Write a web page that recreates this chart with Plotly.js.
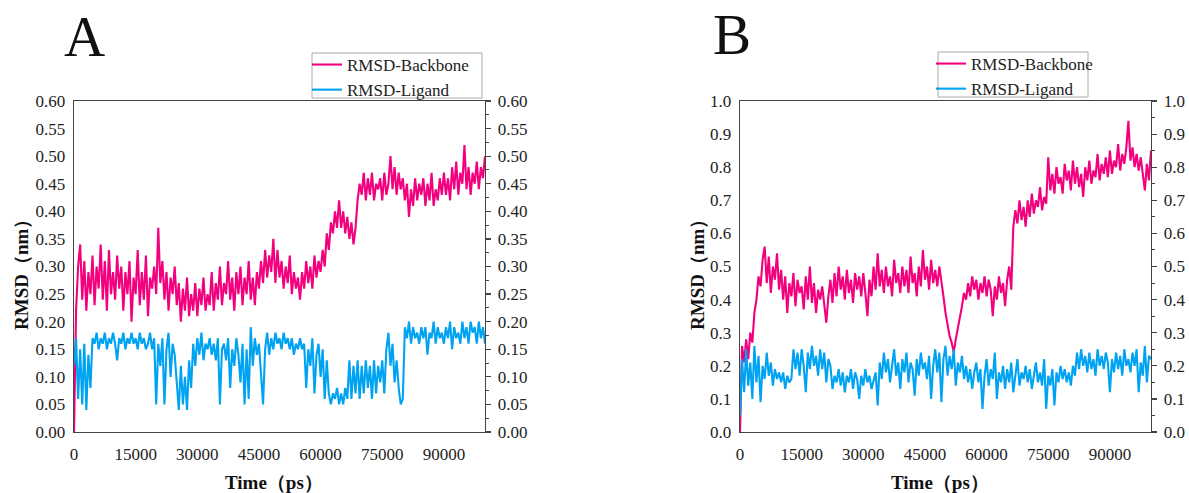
<!DOCTYPE html>
<html>
<head>
<meta charset="utf-8">
<script src="https://cdn.plot.ly/plotly-3.0.1.min.js"></script>
<style>html,body{margin:0;padding:0;background:#fff;}#chart{width:1189px;height:493px;}</style>
</head>
<body>
<div id="chart"></div>
<script>
// Sampling interval of the simulation output (ps)
const timeStepPs = 500;

// Panel A — RMSD (nm)
const backboneA = [
0.00,0.22,0.30,0.34,0.24,0.31,0.22,0.29,0.25,0.32,
0.23,0.30,0.26,0.34,0.24,0.31,0.22,0.33,0.25,0.29,
0.24,0.32,0.26,0.30,0.22,0.29,0.25,0.31,0.20,0.28,
0.25,0.33,0.23,0.29,0.24,0.32,0.21,0.28,0.26,0.30,
0.25,0.37,0.27,0.31,0.24,0.29,0.22,0.28,0.25,0.30,
0.23,0.27,0.20,0.26,0.22,0.28,0.21,0.25,0.22,0.27,
0.21,0.26,0.23,0.28,0.22,0.25,0.23,0.29,0.22,0.27,
0.24,0.30,0.23,0.27,0.25,0.31,0.24,0.28,0.22,0.29,
0.25,0.30,0.23,0.28,0.25,0.31,0.24,0.28,0.23,0.29,
0.26,0.31,0.27,0.33,0.28,0.32,0.29,0.35,0.27,0.33,
0.28,0.31,0.26,0.30,0.27,0.32,0.25,0.29,0.26,0.28,
0.24,0.29,0.26,0.31,0.27,0.30,0.26,0.32,0.28,0.31,
0.29,0.33,0.30,0.36,0.33,0.38,0.36,0.40,0.37,0.42,
0.37,0.40,0.36,0.39,0.35,0.38,0.34,0.37,0.42,0.45,
0.43,0.47,0.42,0.46,0.43,0.47,0.42,0.45,0.44,0.46,
0.42,0.47,0.43,0.45,0.50,0.44,0.48,0.43,0.47,0.44,
0.46,0.42,0.45,0.39,0.44,0.41,0.46,0.42,0.45,0.43,
0.46,0.41,0.45,0.42,0.47,0.41,0.44,0.42,0.46,0.43,
0.47,0.43,0.46,0.42,0.48,0.44,0.49,0.43,0.47,0.45,
0.52,0.44,0.48,0.43,0.47,0.45,0.49,0.44,0.48,0.46,
0.50];
const ligandA = [
0.12,0.17,0.06,0.15,0.05,0.16,0.04,0.14,0.08,0.17,
0.16,0.18,0.15,0.17,0.16,0.18,0.15,0.17,0.16,0.18,
0.16,0.13,0.17,0.16,0.18,0.15,0.17,0.16,0.18,0.16,
0.17,0.15,0.18,0.16,0.17,0.15,0.16,0.18,0.15,0.17,
0.05,0.16,0.12,0.17,0.05,0.15,0.18,0.10,0.16,0.14,
0.09,0.04,0.12,0.05,0.10,0.04,0.13,0.08,0.16,0.12,
0.17,0.14,0.18,0.13,0.16,0.15,0.17,0.14,0.16,0.13,
0.17,0.05,0.15,0.16,0.13,0.17,0.08,0.15,0.12,0.17,
0.14,0.09,0.16,0.05,0.15,0.06,0.19,0.12,0.17,0.14,
0.16,0.11,0.05,0.15,0.18,0.14,0.17,0.15,0.18,0.16,
0.17,0.15,0.18,0.16,0.17,0.15,0.17,0.14,0.16,0.15,
0.17,0.15,0.16,0.08,0.15,0.12,0.17,0.07,0.14,0.16,
0.10,0.15,0.06,0.13,0.07,0.05,0.07,0.06,0.08,0.05,
0.07,0.05,0.08,0.06,0.13,0.06,0.12,0.07,0.13,0.06,
0.12,0.07,0.13,0.08,0.12,0.06,0.13,0.07,0.12,0.09,
0.13,0.07,0.15,0.18,0.12,0.16,0.09,0.13,0.08,0.05,
0.06,0.19,0.17,0.20,0.16,0.19,0.17,0.18,0.16,0.19,
0.17,0.19,0.14,0.18,0.17,0.20,0.16,0.19,0.17,0.18,
0.16,0.19,0.17,0.20,0.15,0.19,0.17,0.18,0.16,0.20,
0.17,0.19,0.16,0.20,0.18,0.19,0.16,0.20,0.17,0.19,
0.16];

// Panel B — RMSD (nm)
const backboneB = [
0.00,0.26,0.21,0.28,0.22,0.30,0.27,0.36,0.40,0.47,
0.44,0.52,0.56,0.45,0.53,0.42,0.50,0.46,0.54,0.43,
0.49,0.40,0.47,0.36,0.45,0.41,0.48,0.38,0.46,0.42,
0.44,0.37,0.47,0.40,0.50,0.39,0.45,0.36,0.43,0.40,
0.44,0.38,0.33,0.41,0.46,0.39,0.48,0.41,0.50,0.43,
0.47,0.40,0.49,0.42,0.46,0.39,0.48,0.43,0.47,0.41,
0.48,0.42,0.35,0.46,0.41,0.50,0.43,0.54,0.44,0.49,
0.42,0.50,0.44,0.47,0.41,0.52,0.45,0.48,0.42,0.50,
0.44,0.49,0.42,0.53,0.45,0.48,0.41,0.50,0.44,0.55,
0.46,0.50,0.43,0.52,0.45,0.49,0.44,0.50,0.46,0.41,
0.36,0.32,0.29,0.27,0.24,0.28,0.31,0.35,0.38,0.42,
0.40,0.45,0.41,0.47,0.43,0.46,0.40,0.45,0.42,0.47,
0.41,0.46,0.43,0.35,0.44,0.40,0.47,0.42,0.45,0.38,
0.46,0.50,0.43,0.62,0.67,0.63,0.70,0.64,0.68,0.62,
0.70,0.65,0.72,0.66,0.70,0.68,0.74,0.67,0.71,0.69,
0.83,0.73,0.78,0.72,0.80,0.75,0.77,0.72,0.81,0.76,
0.79,0.73,0.82,0.75,0.80,0.74,0.78,0.71,0.80,0.76,
0.82,0.75,0.79,0.77,0.84,0.76,0.81,0.78,0.83,0.77,
0.85,0.78,0.82,0.80,0.87,0.79,0.84,0.81,0.86,0.94,
0.82,0.86,0.80,0.84,0.79,0.83,0.77,0.73,0.81,0.76,
0.85];
const ligandB = [
0.05,0.22,0.12,0.25,0.14,0.21,0.10,0.26,0.15,0.23,
0.09,0.20,0.16,0.24,0.17,0.21,0.14,0.19,0.16,0.18,
0.15,0.18,0.13,0.17,0.15,0.16,0.25,0.19,0.24,0.17,
0.25,0.20,0.12,0.24,0.19,0.26,0.20,0.23,0.17,0.25,
0.19,0.24,0.15,0.22,0.20,0.13,0.17,0.15,0.19,0.14,
0.18,0.12,0.17,0.15,0.19,0.13,0.18,0.16,0.10,0.17,
0.14,0.19,0.15,0.17,0.13,0.16,0.18,0.08,0.21,0.16,
0.24,0.18,0.22,0.15,0.20,0.25,0.17,0.21,0.13,0.22,
0.18,0.24,0.15,0.21,0.19,0.11,0.22,0.17,0.24,0.19,
0.21,0.16,0.23,0.10,0.20,0.25,0.18,0.24,0.09,0.22,
0.26,0.17,0.23,0.19,0.25,0.14,0.21,0.18,0.23,0.16,
0.20,0.15,0.19,0.13,0.18,0.21,0.15,0.19,0.07,0.17,
0.22,0.14,0.19,0.16,0.24,0.10,0.18,0.15,0.20,0.13,
0.19,0.15,0.21,0.12,0.17,0.22,0.14,0.18,0.16,0.20,
0.15,0.19,0.13,0.17,0.21,0.15,0.18,0.14,0.22,0.07,
0.17,0.14,0.19,0.08,0.18,0.15,0.20,0.16,0.19,0.15,
0.18,0.14,0.20,0.17,0.24,0.19,0.25,0.20,0.23,0.18,
0.24,0.19,0.22,0.17,0.25,0.20,0.23,0.19,0.24,0.21,
0.12,0.22,0.18,0.24,0.19,0.23,0.17,0.25,0.20,0.22,
0.18,0.24,0.20,0.25,0.12,0.21,0.17,0.26,0.15,0.23,
0.22];

const xTickVals = [0, 15000, 30000, 45000, 60000, 75000, 90000];
const seriesNames = ["RMSD-Backbone", "RMSD-Ligand"];
const panelLabels = ["A", "B"];
const xTitle = "Time（ps）";
const yTitle = "RMSD（nm）";

const time = backboneA.map((_, i) => i * timeStepPs);

const PINK = "#f2007d";
const BLUE = "#00a3f2";
const SERIF = "Liberation Serif";
const AXC = "#444";
const W = 1189, H = 493;
const px = v => v / W;
const py = v => 1 - v / H;

const LW = 2.1;
const traces = [
  {x: time, y: backboneA, type: "scatter", mode: "lines", name: seriesNames[0],
   line: {color: PINK, width: LW}, xaxis: "x", yaxis: "y", legend: "legend"},
  {x: time, y: ligandA, type: "scatter", mode: "lines", name: seriesNames[1],
   line: {color: BLUE, width: LW}, xaxis: "x", yaxis: "y2", legend: "legend"},
  {x: time, y: backboneB, type: "scatter", mode: "lines", name: seriesNames[0],
   line: {color: PINK, width: LW}, xaxis: "x2", yaxis: "y3", legend: "legend2"},
  {x: time, y: ligandB, type: "scatter", mode: "lines", name: seriesNames[1],
   line: {color: BLUE, width: LW}, xaxis: "x2", yaxis: "y4", legend: "legend2"}
];

const tickFont = {family: SERIF, size: 17, color: "#222"};
const yDom = [1 - 432 / H, 1 - 101 / H];

function xAxis(dom, anchor) {
  return {domain: dom, anchor: anchor, range: [0, 100000], tickvals: xTickVals,
    ticktext: xTickVals.map(String), showline: true, mirror: true, linecolor: AXC, linewidth: 1.3,
    ticks: "", showgrid: false, zeroline: false, tickfont: tickFont, ticklabelstandoff: 6};
}
function yLeft(anchor, range, dtick, fmt) {
  return {domain: yDom, anchor: anchor, range: range, dtick: dtick, tick0: 0, tickformat: fmt,
    showline: true, linecolor: AXC, linewidth: 1.3, ticks: "", showgrid: false, zeroline: false,
    tickfont: tickFont, ticklabelstandoff: 4};
}
function yRight(anchor, over, range, dtick, fmt) {
  return {domain: yDom, anchor: anchor, overlaying: over, side: "right", range: range, dtick: dtick,
    tick0: 0, tickformat: fmt, showline: true, linecolor: AXC, linewidth: 1.3,
    ticks: "outside", ticklen: 5, tickcolor: AXC, tickwidth: 1.2,
    minor: {ticks: "outside", ticklen: 3, dtick: dtick / 2, tickcolor: AXC, tickwidth: 1, showgrid: false},
    showgrid: false, zeroline: false, tickfont: tickFont, ticklabelstandoff: 3};
}

const legendBase = {bgcolor: "rgba(255,255,255,0)", borderwidth: 0,
  font: {family: SERIF, size: 17, color: "#222"}, xanchor: "left", yanchor: "top",
  tracegroupgap: 0, itemwidth: 30};

const annFont = (size, bold) => ({family: SERIF, size: size, color: "#111", weight: bold ? "bold" : "normal"});

const annotations = [
  {text: panelLabels[0], x: px(84), y: py(36), xref: "paper", yref: "paper", showarrow: false,
   font: annFont(57, false), xanchor: "center", yanchor: "middle"},
  {text: panelLabels[1], x: px(732), y: py(34), xref: "paper", yref: "paper", showarrow: false,
   font: annFont(57, false), xanchor: "center", yanchor: "middle"},
  {text: xTitle, x: px(274), y: py(482), xref: "paper", yref: "paper", showarrow: false,
   font: annFont(19, true), xanchor: "center", yanchor: "middle"},
  {text: xTitle, x: px(940), y: py(482), xref: "paper", yref: "paper", showarrow: false,
   font: annFont(19, true), xanchor: "center", yanchor: "middle"},
  {text: yTitle, x: px(21), y: py(270), xref: "paper", yref: "paper", showarrow: false, textangle: -90,
   font: annFont(19, true), xanchor: "center", yanchor: "middle"},
  {text: yTitle, x: px(697), y: py(270), xref: "paper", yref: "paper", showarrow: false, textangle: -90,
   font: annFont(19, true), xanchor: "center", yanchor: "middle"}
];

const boxStyle = {type: "rect", xref: "paper", yref: "paper", line: {color: "#aaa", width: 1}, fillcolor: "rgba(0,0,0,0)"};
const shapes = [
  Object.assign({}, boxStyle, {x0: px(312), x1: px(482), y0: py(98), y1: py(53)}),
  Object.assign({}, boxStyle, {x0: px(938), x1: px(1088), y0: py(97), y1: py(52)})
];

const layout = {
  width: W, height: H, margin: {l: 0, r: 0, t: 0, b: 0, pad: 0},
  paper_bgcolor: "#fff", plot_bgcolor: "#fff", showlegend: true,
  xaxis: xAxis([px(74), px(485)], "y"),
  yaxis: yLeft("x", [0, 0.6], 0.05, ".2f"),
  yaxis2: yRight("x", "y", [0, 0.6], 0.05, ".2f"),
  xaxis2: xAxis([px(740), px(1151)], "y3"),
  yaxis3: yLeft("x2", [0, 1.0], 0.1, ".1f"),
  yaxis4: yRight("x2", "y3", [0, 1.0], 0.1, ".1f"),
  legend: Object.assign({}, legendBase, {x: px(307), y: py(47)}),
  legend2: Object.assign({}, legendBase, {x: px(931), y: py(46)}),
  annotations: annotations,
  shapes: shapes
};

Plotly.newPlot("chart", traces, layout, {staticPlot: true, displayModeBar: false});
</script>
</body>
</html>
